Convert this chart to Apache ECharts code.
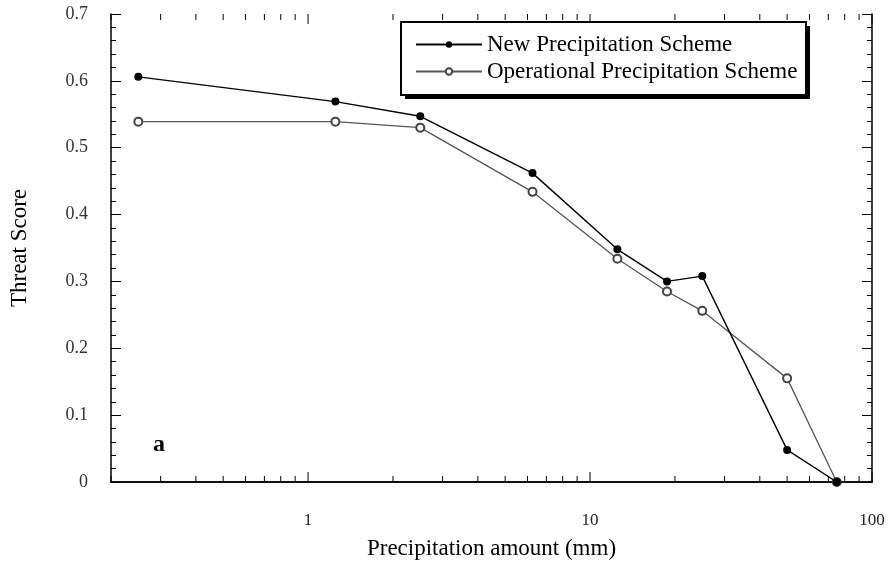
<!DOCTYPE html>
<html><head><meta charset="utf-8">
<script src="https://cdn.jsdelivr.net/npm/echarts@6/dist/echarts.min.js"></script>
<style>html,body{margin:0;padding:0;background:#fff}#c{width:891px;height:565px}</style>
</head><body><div id="c"></div>
<script>
const precipitation = [0.25, 1.25, 2.5, 6.25, 12.5, 18.75, 25, 50, 75];
const newScheme = [0.606, 0.569, 0.547, 0.462, 0.348, 0.300, 0.308, 0.048, 0.0];
const operationalScheme = [0.539, 0.539, 0.530, 0.434, 0.334, 0.285, 0.256, 0.155, 0.0];
const seriesNames = ['New Precipitation Scheme', 'Operational Precipitation Scheme'];
const xTickLabels = [1, 10, 100];
const yTickLabels = ['0', '0.1', '0.2', '0.3', '0.4', '0.5', '0.6', '0.7'];

const FONT = "'Liberation Serif', 'Times New Roman', serif";
// log-axis tick marks (major at decades, minor at 2..9 multiples)
const xTicks = [];
for (const d of [0.1, 1, 10]) {
  for (let m = 1; m <= 9; m++) {
    const v = +(d * m).toPrecision(3);
    if (v >= 0.2 && v <= 100) xTicks.push([v, m === 1 ? 1 : 0]);
  }
}
xTicks.push([100, 1]);

const chart = echarts.init(document.getElementById('c'));
const yAxisBase = {
  type: 'value', min: 0, max: 0.7, interval: 0.1,
  axisLine: { show: true, lineStyle: { color: '#000', width: 1.5 } },
  axisTick: { show: true, inside: true, length: 10, lineStyle: { color: '#000', width: 1 } },
  minorTick: { show: true, splitNumber: 5, length: 5, lineStyle: { color: '#000', width: 1 } },
  splitLine: { show: false }
};
chart.setOption({
  backgroundColor: '#fff',
  animation: false,
  grid: { left: 111, right: 19, top: 14, bottom: 80 },
  xAxis: [{
    type: 'log', logBase: 10, min: 0.2, max: 100, position: 'bottom',
    name: 'Precipitation amount (mm)', nameLocation: 'middle', nameGap: 55,
    nameTextStyle: { fontFamily: FONT, fontSize: 23, color: '#000' },
    axisLine: { show: true, lineStyle: { color: '#000', width: 1.5 } },
    axisTick: { show: false }, splitLine: { show: false },
    axisLabel: {
      margin: 30, fontFamily: FONT, fontSize: 17, color: '#222',
      formatter: v => { const r = Math.round(v * 1000) / 1000; return xTickLabels.includes(r) ? String(r) : ''; }
    }
  }, {
    type: 'log', logBase: 10, min: 0.2, max: 100, position: 'top',
    axisLine: { show: true, lineStyle: { color: '#000', width: 1.5 } },
    axisTick: { show: false }, axisLabel: { show: false }, splitLine: { show: false }
  }],
  yAxis: [Object.assign({}, yAxisBase, {
    position: 'left',
    name: 'Threat Score', nameLocation: 'middle', nameGap: 80, nameRotate: 90,
    nameTextStyle: { fontFamily: FONT, fontSize: 23, color: '#000' },
    axisLabel: { margin: 23, fontFamily: FONT, fontSize: 18, color: '#333',
      formatter: v => yTickLabels[Math.round(v * 10)] }
  }), Object.assign({}, yAxisBase, { position: 'right', axisLabel: { show: false } })],
  legend: {
    orient: 'vertical', left: 415, top: 33,
    itemWidth: 66, itemHeight: 8, itemGap: 4, padding: 0,
    textStyle: { fontFamily: FONT, fontSize: 23, color: '#000' },
    data: seriesNames, z: 10
  },
  graphic: [
    { type: 'rect', z: 5, silent: true, shape: { x: 405, y: 26, width: 405, height: 73 }, style: { fill: '#000' } },
    { type: 'rect', z: 6, silent: true, shape: { x: 401, y: 22, width: 405, height: 73 }, style: { fill: '#fff', stroke: '#000', lineWidth: 2 } },
    { type: 'text', left: 153, top: 433, style: { text: 'a', font: "bold 24px 'Liberation Serif', serif", fill: '#000' } }
  ],
  series: [{
    name: seriesNames[0], type: 'line',
    data: precipitation.map((x, i) => [x, newScheme[i]]),
    symbol: 'circle', symbolSize: 8,
    lineStyle: { color: '#000', width: 1.4 },
    itemStyle: { color: '#000' }, z: 3
  }, {
    name: seriesNames[1], type: 'line',
    data: precipitation.map((x, i) => [x, operationalScheme[i]]),
    symbol: 'emptyCircle', symbolSize: 8,
    lineStyle: { color: '#555', width: 1.3 },
    itemStyle: { color: '#444', borderWidth: 1.2 }, z: 2
  }, {
    type: 'custom', silent: true, clip: false, legendHoverLink: false,
    data: xTicks, encode: { x: 0, y: 1 },
    renderItem: (params, api) => {
      const v = api.value(0), major = api.value(1);
      const b = api.coord([v, 0]), t = api.coord([v, 0.7]);
      const L = major ? 10 : 6;
      const st = { stroke: '#000', lineWidth: 1 };
      return { type: 'group', children: [
        { type: 'line', shape: { x1: b[0], y1: b[1], x2: b[0], y2: b[1] - L }, style: st },
        { type: 'line', shape: { x1: t[0], y1: t[1], x2: t[0], y2: t[1] + L }, style: st }
      ] };
    }
  }]
});
</script></body></html>
